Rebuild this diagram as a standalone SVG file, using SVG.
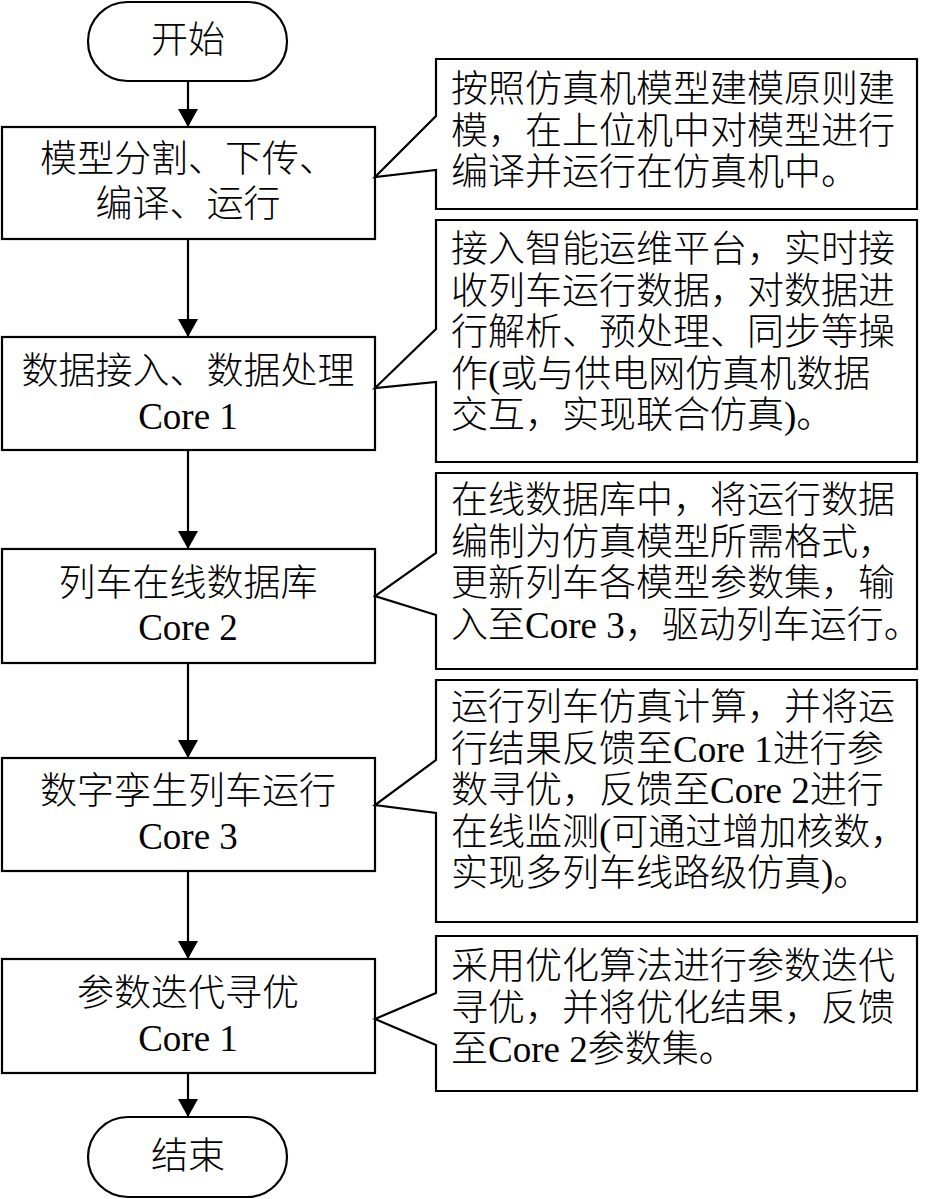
<svg xmlns="http://www.w3.org/2000/svg" width="928" height="1199" viewBox="0 0 928 1199">
<style>
  .shape { fill: #ffffff; stroke: #000000; stroke-width: 2.2; }
  .conn { fill: none; stroke: #000000; stroke-width: 2.2; }
  text { font-family: "Liberation Serif", "Noto Sans CJK SC", serif; font-size: 37px; font-weight: 300; fill: #000000; }
  .c { text-anchor: middle; }
</style>
<defs>
  <marker id="arrow" markerUnits="userSpaceOnUse" markerWidth="20" markerHeight="20" viewBox="0 0 18 20" refX="18" refY="10" orient="auto">
    <path d="M0,0 L18,10 L0,20 Z" fill="#000000"/>
  </marker>
</defs>
<rect width="928" height="1199" fill="#ffffff"/>

<g id="connectors">
  <line class="conn" x1="188" y1="81" x2="188" y2="127" marker-end="url(#arrow)"/>
  <line class="conn" x1="188" y1="239" x2="188" y2="337" marker-end="url(#arrow)"/>
  <line class="conn" x1="188" y1="450" x2="188" y2="549" marker-end="url(#arrow)"/>
  <line class="conn" x1="188" y1="663" x2="188" y2="758" marker-end="url(#arrow)"/>
  <line class="conn" x1="188" y1="871" x2="188" y2="959" marker-end="url(#arrow)"/>
  <line class="conn" x1="188" y1="1073" x2="188" y2="1117" marker-end="url(#arrow)"/>
</g>

<g id="start">
  <rect class="shape" x="88" y="2" width="199" height="79" rx="39.5" ry="39.5"/>
  <text class="c" x="188" y="53">开始</text>
</g>

<g id="step1">
  <rect class="shape" x="2" y="127" width="373" height="112"/>
  <text class="c" x="188" y="171.5">模型分割、下传、</text>
  <text class="c" x="188" y="216.5">编译、运行</text>
</g>

<g id="step2">
  <rect class="shape" x="2" y="337" width="373" height="113"/>
  <text class="c" x="188" y="383.5">数据接入、数据处理</text>
  <text class="c" x="188" y="429">Core 1</text>
</g>

<g id="step3">
  <rect class="shape" x="2" y="549" width="373" height="114"/>
  <text class="c" x="188" y="595.5">列车在线数据库</text>
  <text class="c" x="188" y="640">Core 2</text>
</g>

<g id="step4">
  <rect class="shape" x="2" y="758" width="373" height="113"/>
  <text class="c" x="188" y="803.5">数字孪生列车运行</text>
  <text class="c" x="188" y="849">Core 3</text>
</g>

<g id="step5">
  <rect class="shape" x="2" y="959" width="373" height="114"/>
  <text class="c" x="188" y="1005.5">参数迭代寻优</text>
  <text class="c" x="188" y="1051">Core 1</text>
</g>

<g id="end">
  <rect class="shape" x="88" y="1117" width="199" height="80" rx="40" ry="40"/>
  <text class="c" x="188" y="1168.5">结束</text>
</g>

<g id="note1">
  <path class="shape" d="M436,59 H917 V209 H436 V170 L375,177 L436,116 Z"/>
  <text x="451" y="102">按照仿真机模型建模原则建</text>
  <text x="451" y="143.5">模，在上位机中对模型进行</text>
  <text x="451" y="185">编译并运行在仿真机中。</text>
</g>

<g id="note2">
  <path class="shape" d="M436,220 H917 V462 H436 V382 L375,388 L436,329 Z"/>
  <text x="451" y="262">接入智能运维平台，实时接</text>
  <text x="451" y="303.5">收列车运行数据，对数据进</text>
  <text x="451" y="345">行解析、预处理、同步等操</text>
  <text x="451" y="386.5">作(或与供电网仿真机数据</text>
  <text x="451" y="428">交互，实现联合仿真)。</text>
</g>

<g id="note3">
  <path class="shape" d="M436,473 H917 V669 H436 V615 L375,596 L436,553 Z"/>
  <text x="451" y="513">在线数据库中，将运行数据</text>
  <text x="451" y="554.5">编制为仿真模型所需格式，</text>
  <text x="451" y="596">更新列车各模型参数集，输</text>
  <text x="451" y="637.5">入至Core 3，驱动列车运行。</text>
</g>

<g id="note4">
  <path class="shape" d="M436,680 H917 V922 H436 V813 L375,805 L436,760 Z"/>
  <text x="451" y="720">运行列车仿真计算，并将运</text>
  <text x="451" y="761.5">行结果反馈至Core 1进行参</text>
  <text x="451" y="803">数寻优，反馈至Core 2进行</text>
  <text x="451" y="844.5">在线监测(可通过增加核数，</text>
  <text x="451" y="886">实现多列车线路级仿真)。</text>
</g>

<g id="note5">
  <path class="shape" d="M436,936 H917 V1091 H436 V1045 L375,1019 L436,993 Z"/>
  <text x="451" y="979">采用优化算法进行参数迭代</text>
  <text x="451" y="1020.5">寻优，并将优化结果，反馈</text>
  <text x="451" y="1062">至Core 2参数集。</text>
</g>
</svg>
